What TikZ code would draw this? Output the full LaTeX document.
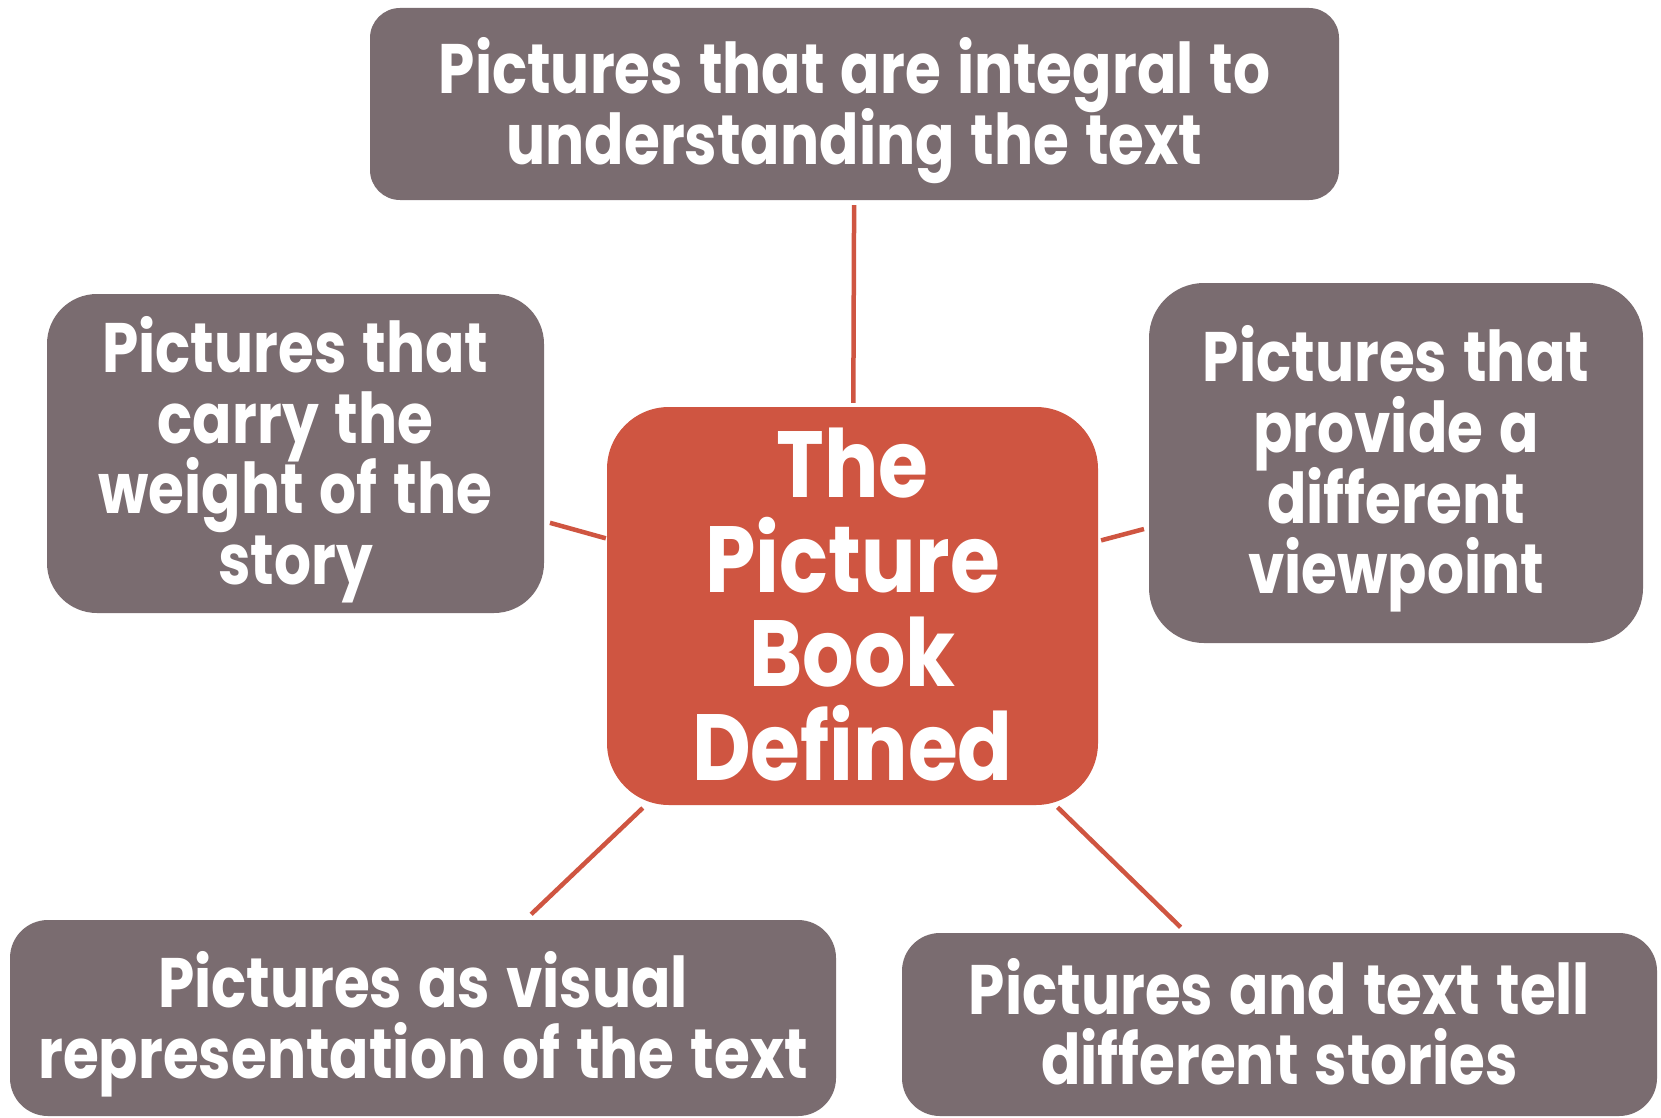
\documentclass[tikz,border=0pt]{standalone}
\usepackage{fontspec}
\setmainfont{Poppins}[FakeStretch=0.83,WordSpace=1.3]
\newfontfamily\hubfont{Poppins}[FakeStretch=0.86]
\setlength{\lineskiplimit}{-100pt}
\newcommand\mytop{\rule{0pt}{1.0em}}
\newcommand\mybot{\rule[-0.29em]{0pt}{0.29em}}
\newcommand\hubtop{\rule{0pt}{0.96em}}
\newcommand\hubbot{\rule[-0.25em]{0pt}{0.25em}}
\definecolor{boxgrey}{RGB}{122,108,112}
\definecolor{boxred}{RGB}{207,85,65}
\begin{document}
\begin{tikzpicture}[x=1pt,y=-1pt,
  outer/.style={rectangle, fill=boxgrey, text=white, inner sep=0pt, align=center,
     font=\fontsize{70}{70.7}\selectfont\bfseries},
  hub/.style={rectangle, fill=boxred, text=white, inner sep=0pt, align=center,
     rounded corners=62pt, minimum width=491pt, minimum height=398pt,
     font=\hubfont\fontsize{94}{94.3}\selectfont\bfseries},
  conn/.style={draw=boxred, line width=4.5pt}]
\useasboundingbox (0,0) rectangle (1661,1118);
\fill[white] (0,0) rectangle (1661,1118);
\node[hub] (hub) at (852.5,606) {\hubtop The\\Picture\\Book\\Defined\hubbot};
\node[outer, rounded corners=30pt, minimum width=969pt, minimum height=192pt] (top) at (854.5,104)
  {\mytop Pictures that are integral to\\understanding the text\mybot};
\node[outer, rounded corners=50pt, minimum width=497pt, minimum height=319pt] (left) at (295.5,453.5)
  {\mytop Pictures that\\carry the\\weight of the\\story\mybot};
\node[outer, rounded corners=55pt, minimum width=494pt, minimum height=360pt] (right) at (1396,463)
  {\mytop Pictures that\\provide a\\different\\viewpoint\mybot};
\node[outer, rounded corners=38pt, minimum width=826pt, minimum height=196pt] (bl) at (423,1018)
  {\mytop Pictures as visual\\representation of the text\mybot};
\node[outer, rounded corners=38pt, minimum width=755pt, minimum height=183pt] (br) at (1279.5,1024.5)
  {\mytop Pictures and text tell\\different stories\mybot};
\draw[conn, shorten <=4pt, shorten >=5pt] (hub) -- (top);
\draw[conn, shorten <=1pt, shorten >=6pt] (hub) -- (left);
\draw[conn, shorten <=3pt, shorten >=5pt] (hub) -- (right);
\draw[conn, shorten <=4pt, shorten >=8pt] (hub) -- (bl);
\draw[conn, shorten <=3pt, shorten >=8pt] (hub) -- (br);
\end{tikzpicture}
\end{document}
